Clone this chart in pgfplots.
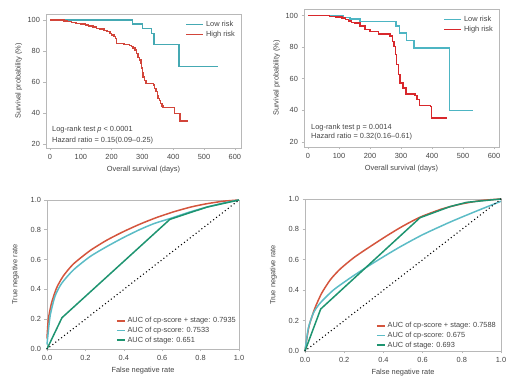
\documentclass[border=0pt]{standalone}
\usepackage{fontspec}
\setmainfont{Liberation Sans}
\usepackage{pgfplots}
\pgfplotsset{compat=1.18}

\definecolor{lowA}{HTML}{45A9B3}
\definecolor{highA}{HTML}{D2453A}
\definecolor{lowB}{HTML}{4DB5C3}
\definecolor{highB}{HTML}{D8282C}
\definecolor{rocR}{HTML}{D4553D}
\definecolor{rocT}{HTML}{5CBCC6}
\definecolor{rocG}{HTML}{1E9470}
\definecolor{txt}{HTML}{444444}
\definecolor{frame}{HTML}{B8B8B8}

\newcommand{\fs}{\fontsize{7.4}{8.4}\selectfont}

\pgfplotsset{
  base/.style={
    scale only axis,
    axis line style={draw=frame, line width=0.6pt},
    tick style={draw=frame, line width=0.6pt},
    tick align=outside,
    major tick length=2.5pt,
    tick pos=left,
    ticklabel style={font=\fs, text=txt},
    label style={font=\fs, text=txt},
    /pgf/number format/assume math mode=true,
    clip=false,
  },
  km/.style={
    base,
    xtick={0,100,...,600},
    ytick={20,40,...,100},
    xlabel={Overall survival (days)},
    ylabel={Survival probability (\%)},
    ylabel style={xshift=0pt, yshift=-1.5pt},
    legend style={draw=none, fill=none, font=\fs, text=txt, at={(0.985,0.97)}, anchor=north east,
      inner sep=1pt, row sep=-1pt},
    legend cell align=left,
    legend image code/.code={\draw[#1, line width=1.4pt] (0pt,0pt) -- (17pt,0pt);},
  },
  roc/.style={
    base,
    xmin=0, xmax=1, ymin=0, ymax=1,
    xtick={0,0.2,...,1.0},
    ytick={0.2,0.4,...,1.0},
    extra y ticks={0}, extra y tick style={tick style={draw=none}},
    /pgf/number format/.cd, fixed, precision=1, fixed zerofill, /pgfplots/.cd,
    xlabel={False negative rate},
    ylabel={True negative rate},
    legend style={draw=none, fill=none, font=\fs, text=txt, anchor=south east,
      inner sep=1pt, row sep=-1.2pt},
    legend cell align=left,
    legend image code/.code={\draw[#1, line width=1.5pt] (0pt,0pt) -- (8pt,0pt);},
  },
  diag/.style={black, line width=1.5pt, line cap=round, dash pattern=on 0pt off 3.7pt},
}

\begin{document}
\begin{tikzpicture}[x=1pt,y=1pt]
\path[use as bounding box] (0,0) rectangle (517,387);

% ---------- Panel 1 ----------
\begin{axis}[km, at={(46pt,239pt)}, anchor=south west, width=195pt, height=134pt,
  xmin=-13, xmax=620, ymin=17.4, ymax=104]
\addplot[const plot, lowA, line width=1.4pt] coordinates {
 (0,100) (268,97.4) (301,94.6) (330,91.4) (337,84.3) (419,69.9) (546,69.9)};
\addlegendentry{Low risk}
\addplot[const plot, highA, line width=1.4pt] coordinates {
 (0,100) (45,99.5) (55,99) (70,98.5) (85,98) (100,97.5) (115,97) (125,96.3) (140,95.5)
 (150,94.8) (160,94.2) (175,93.5) (185,92.5) (195,91.3) (200,90.5) (208,89.5) (213,88)
 (216,85) (240,84.3) (258,83.5) (265,82.8) (270,82) (276,80.6) (281,78.5) (286,76)
 (290,74.2) (295,72) (297,69) (300,66) (302,63.4) (306,61) (311,59.2) (335,58.1)
 (339,56) (344,53.8) (348,51.5) (351,49.5) (355,48) (359,46.3) (363,44.5) (367,43.4)
 (405,39.8) (422,34.8) (449,34.8)};
\addlegendentry{High risk}
\node[anchor=west, inner sep=0pt, font=\fs, text=txt] at (axis cs:6.5,29.5) {Log-rank test \textit{p} < 0.0001};
\node[anchor=west, inner sep=0pt, font=\fs, text=txt] at (axis cs:6.5,22.4) {Hazard ratio = 0.15(0.09\textendash0.25)};
\end{axis}

% ---------- Panel 2 ----------
\begin{axis}[km, at={(304pt,240pt)}, anchor=south west, width=195pt, height=138pt,
  xmin=-12.9, xmax=616, ymin=16.8, ymax=104.2]
\addplot[const plot, lowB, line width=1.4pt] coordinates {
 (0,100) (115,98.8) (135,97.9) (168,96.4) (284,93.3) (295,89) (318,84.2) (342,79.5)
 (456,39.8) (533,39.8)};
\addlegendentry{Low risk}
\addplot[const plot, highB, line width=1.4pt] coordinates {
 (0,100) (70,99.5) (90,99) (110,98.5) (120,97.5) (130,96.5) (140,95.8) (152,95.4)
 (168,93.3) (184,91.1) (200,90.1) (227,88.4) (265,87) (273,83.8) (278,80.6) (283,75.3)
 (286,69) (291,62.6) (297,57.4) (307,54.2) (316,50.4) (345,49.6) (351,46.8) (359,43.2)
 (396,42.6) (399,35.2) (447,34.6)};
\addlegendentry{High risk}
\node[anchor=west, inner sep=0pt, font=\fs, text=txt] at (axis cs:9.7,28.9) {Log-rank test p = 0.0014};
\node[anchor=west, inner sep=0pt, font=\fs, text=txt] at (axis cs:9.7,23.2) {Hazard ratio = 0.32(0.16\textendash0.61)};
\end{axis}

% ---------- Panel 3 ----------
\begin{axis}[roc, at={(47pt,38pt)}, anchor=south west, width=192pt, height=149pt,
  legend style={at={(1.0,0.015)}}]
\addplot[rocR, line width=1.5pt, smooth, tension=0.4] coordinates {
 (0,0.07) (0.007,0.2) (0.024,0.31) (0.05,0.41) (0.085,0.49) (0.137,0.57) (0.224,0.66)
 (0.311,0.73) (0.397,0.787) (0.484,0.838) (0.57,0.882) (0.658,0.92) (0.75,0.953)
 (0.832,0.975) (0.92,0.992) (1,1)};
\addlegendentry{AUC of cp-score + stage: 0.7935}
\addplot[rocT, line width=1.5pt, smooth, tension=0.4] coordinates {
 (0,0.03) (0.016,0.22) (0.042,0.355) (0.076,0.44) (0.137,0.53) (0.224,0.62)
 (0.311,0.687) (0.397,0.747) (0.484,0.802) (0.56,0.843) (0.64,0.875) (0.74,0.918)
 (0.832,0.952) (0.92,0.98) (1,1)};
\addlegendentry{AUC of cp-score: 0.7533}
\addplot[rocG, line width=1.5pt] coordinates {
 (0,0) (0.078,0.21) (0.64,0.87) (0.832,0.952) (1,1)};
\addlegendentry{AUC of stage: 0.651}
\addplot[diag, forget plot] coordinates {(0,0) (1,1)};
\end{axis}

% ---------- Panel 4 ----------
\begin{axis}[roc, at={(305pt,36pt)}, anchor=south west, width=196pt, height=152pt,
  legend style={at={(0.99,-0.005)}}]
\addplot[rocR, line width=1.5pt, smooth, tension=0.4] coordinates {
 (0,0) (0.02,0.16) (0.05,0.28) (0.085,0.38) (0.13,0.47) (0.18,0.54) (0.25,0.615)
 (0.33,0.685) (0.42,0.76) (0.5,0.822) (0.59,0.882) (0.7,0.935) (0.8,0.968) (0.9,0.99) (1,1)};
\addlegendentry{AUC of cp-score + stage: 0.7588}
\addplot[rocT, line width=1.5pt, smooth, tension=0.4] coordinates {
 (0,0) (0.017,0.15) (0.043,0.25) (0.077,0.315) (0.144,0.40) (0.23,0.48) (0.315,0.552)
 (0.39,0.612) (0.485,0.685) (0.6,0.765) (0.74,0.848) (0.87,0.918) (1,0.985)};
\addlegendentry{AUC of cp-score: 0.675}
\addplot[rocG, line width=1.5pt] coordinates {
 (0,0) (0.08,0.276) (0.587,0.877) (0.74,0.95) (0.825,0.978) (1,1)};
\addlegendentry{AUC of stage: 0.693}
\addplot[diag, forget plot] coordinates {(0,0) (1,1)};
\end{axis}
\end{tikzpicture}
\end{document}
